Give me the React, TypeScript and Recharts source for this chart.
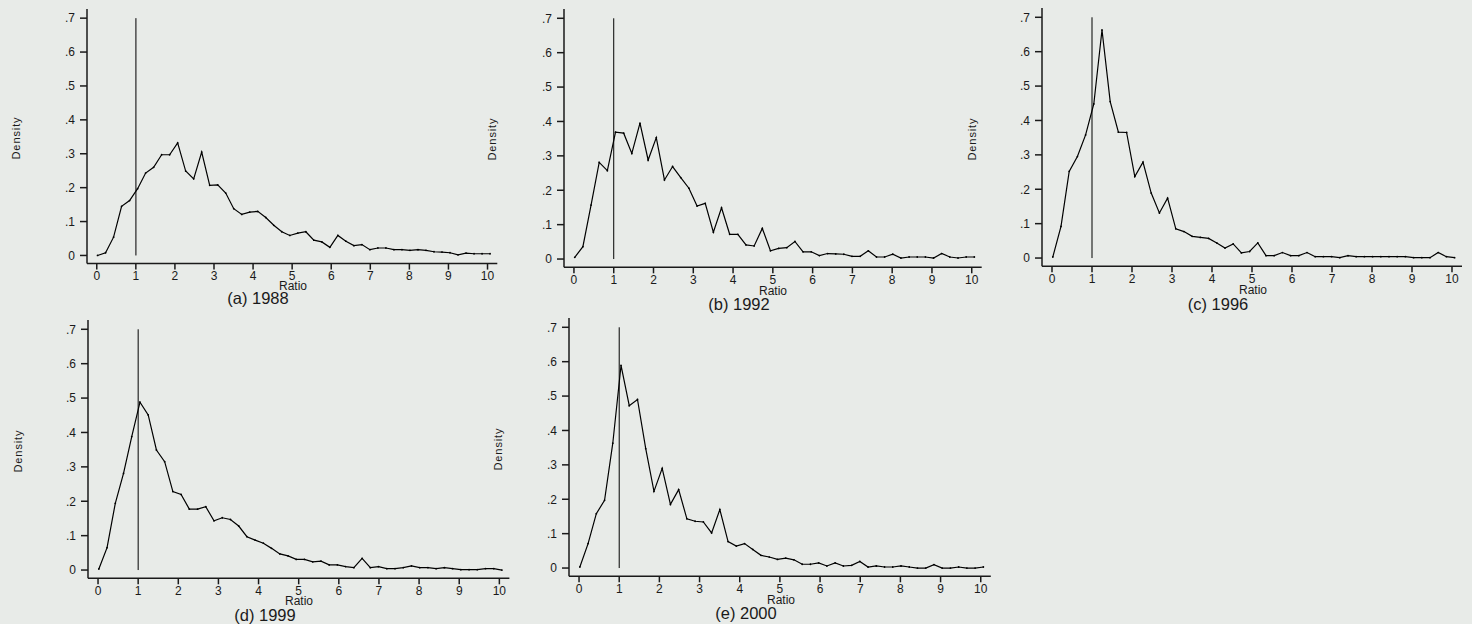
import React from "react";
import { LineChart, Line, XAxis, YAxis, ReferenceLine } from "recharts";

// bin midpoints on the Ratio axis (shared by all five panels)
const RATIO = [
  0.02, 0.225, 0.43, 0.635, 0.84, 1.045, 1.25, 1.455, 1.66, 1.865,
  2.07, 2.275, 2.48, 2.685, 2.89, 3.095, 3.3, 3.505, 3.71, 3.915,
  4.12, 4.325, 4.53, 4.735, 4.94, 5.145, 5.35, 5.555, 5.76, 5.965,
  6.17, 6.375, 6.58, 6.785, 6.99, 7.195, 7.4, 7.605, 7.81, 8.015,
  8.22, 8.425, 8.63, 8.835, 9.04, 9.245, 9.45, 9.655, 9.86, 10.065,
];

const D1988 = [
  0.0, 0.008, 0.054, 0.145, 0.162, 0.197, 0.243, 0.26, 0.297, 0.297,
  0.332, 0.249, 0.226, 0.305, 0.207, 0.208, 0.184, 0.138, 0.121, 0.128,
  0.13, 0.112, 0.089, 0.07, 0.059, 0.066, 0.07, 0.045, 0.04, 0.024,
  0.059, 0.042, 0.029, 0.032, 0.017, 0.022, 0.022, 0.017, 0.017, 0.015,
  0.017, 0.015, 0.011, 0.01, 0.008, 0.002, 0.007, 0.005, 0.005, 0.005,
];

const D1992 = [
  0.005, 0.036, 0.157, 0.281, 0.257, 0.369, 0.366, 0.307, 0.395, 0.288,
  0.353, 0.23, 0.269, 0.237, 0.206, 0.154, 0.162, 0.078, 0.149, 0.072,
  0.072, 0.041, 0.038, 0.089, 0.024, 0.031, 0.033, 0.051, 0.021, 0.021,
  0.01, 0.016, 0.015, 0.014, 0.008, 0.008, 0.024, 0.006, 0.006, 0.014,
  0.003, 0.006, 0.006, 0.006, 0.003, 0.016, 0.006, 0.003, 0.006, 0.006,
];

const D1996 = [
  0.003, 0.092, 0.252, 0.295, 0.358, 0.448, 0.663, 0.455, 0.366, 0.365,
  0.237, 0.279, 0.189, 0.131, 0.174, 0.085, 0.077, 0.063, 0.06, 0.057,
  0.044, 0.029, 0.041, 0.015, 0.019, 0.044, 0.007, 0.007, 0.016, 0.007,
  0.007, 0.016, 0.004, 0.004, 0.004, 0.001, 0.007, 0.004, 0.004, 0.004,
  0.004, 0.004, 0.004, 0.004, 0.001, 0.001, 0.001, 0.016, 0.004, 0.001,
];

const D1999 = [
  0.003, 0.065, 0.194, 0.281, 0.388, 0.488, 0.451, 0.349, 0.315, 0.228,
  0.22, 0.177, 0.177, 0.184, 0.143, 0.152, 0.147, 0.128, 0.097, 0.087,
  0.078, 0.063, 0.047, 0.041, 0.031, 0.031, 0.024, 0.026, 0.015, 0.015,
  0.01, 0.007, 0.034, 0.007, 0.01, 0.004, 0.004, 0.007, 0.012, 0.007,
  0.007, 0.004, 0.007, 0.004, 0.001, 0.001, 0.001, 0.004, 0.004, 0.0,
];

const D2000 = [
  0.003, 0.071, 0.158, 0.197, 0.363, 0.589, 0.472, 0.49, 0.347, 0.223,
  0.29, 0.185, 0.228, 0.143, 0.136, 0.134, 0.102, 0.17, 0.077, 0.064,
  0.071, 0.054, 0.037, 0.032, 0.025, 0.029, 0.024, 0.011, 0.011, 0.015,
  0.006, 0.015, 0.006, 0.008, 0.019, 0.003, 0.006, 0.003, 0.003, 0.006,
  0.003, 0.0, 0.0, 0.01, 0.0, 0.0, 0.003, 0.0, 0.0, 0.003,
];

const X_TICKS = [0, 1, 2, 3, 4, 5, 6, 7, 8, 9, 10];
const Y_TICKS = [0, 0.1, 0.2, 0.3, 0.4, 0.5, 0.6, 0.7];

const FONT = "'Liberation Sans', Arial, sans-serif";
const BG = "#e8ebe8";
const INK = "#1a1a1a";
const TICK_FS = 12;
const YW = 60;
const XH = 30;
const MT = 4;
const MR = 4;

const panels = [
  { caption: "(a) 1988", data: D1988, left: 86.8, top: 8.6, w: 410.3, h: 254.6, ref: "#5e5e5e", refW: 1.7,
    capX: 258, capY: 303.5, ratioX: 293, ratioY: 290, densX: 19.5, densY: 138 },
  { caption: "(b) 1992", data: D1992, left: 564.4, top: 8.9, w: 417.7, h: 258.3, ref: "#000", refW: 1,
    capX: 739, capY: 309.5, ratioX: 773, ratioY: 294.5, densX: 496, densY: 139 },
  { caption: "(c) 1996", data: D1996, left: 1042.3, top: 8.2, w: 420, h: 258.3, ref: "#000", refW: 1,
    capX: 1218, capY: 309.5, ratioX: 1253, ratioY: 293.5, densX: 976, densY: 139 },
  { caption: "(d) 1999", data: D1999, left: 87.7, top: 320.2, w: 421.4, h: 258.3, ref: "#000", refW: 1,
    capX: 265, capY: 620.5, ratioX: 299, ratioY: 604.5, densX: 21.5, densY: 451 },
  { caption: "(e) 2000", data: D2000, left: 569, top: 317.9, w: 421.8, h: 258.3, ref: "#000", refW: 1,
    capX: 746, capY: 619, ratioX: 781, ratioY: 603.5, densX: 502, densY: 449 },
];

const fmtY = (v: number) => (v === 0 ? "0" : "." + Math.round(v * 10));

// explicit tick renderers so the label size is exactly what we ask for
const XTick = ({ x, y, payload }: any) => (
  <text x={x} y={y} dy="0.71em" textAnchor="middle" fontSize={TICK_FS} fontFamily={FONT} fill={INK}>
    {payload.value}
  </text>
);

const YTick = ({ x, y, payload }: any) => (
  <text x={x} y={y} dy="0.355em" textAnchor="end" fontSize={TICK_FS} fontFamily={FONT} fill={INK}>
    {fmtY(payload.value)}
  </text>
);

function Panel({ p }: { p: (typeof panels)[number] }) {
  const rows = RATIO.map((x, i) => ({ x, y: p.data[i] }));
  return (
    <div style={{ position: "absolute", left: p.left - YW, top: p.top - MT }}>
      <LineChart
        width={YW + p.w + MR}
        height={MT + p.h + XH}
        data={rows}
        margin={{ top: MT, right: MR, left: 0, bottom: 0 }}
      >
        <XAxis
          type="number"
          dataKey="x"
          domain={[-0.25, 10.25]}
          ticks={X_TICKS}
          allowDataOverflow
          interval={0}
          height={XH}
          tickSize={6}
          tickMargin={2}
          axisLine={{ stroke: INK, strokeWidth: 1.5 }}
          tickLine={{ stroke: INK, strokeWidth: 1.5 }}
          tick={XTick}
        />
        <YAxis
          type="number"
          domain={[-0.024, 0.727]}
          ticks={Y_TICKS}
          allowDataOverflow
          interval={0}
          width={YW}
          tickSize={7}
          tickMargin={5}
          axisLine={{ stroke: INK, strokeWidth: 1.5 }}
          tickLine={{ stroke: INK, strokeWidth: 1.5 }}
          tick={YTick}
        />
        <ReferenceLine
          segment={[{ x: 1, y: 0 }, { x: 1, y: 0.7 }]}
          stroke={p.ref}
          strokeWidth={p.refW}
        />
        <Line
          type="linear"
          dataKey="y"
          stroke="#000"
          strokeWidth={1.2}
          dot={{ r: 0.9, fill: "#000", stroke: "none" }}
          activeDot={false}
          isAnimationActive={false}
        />
      </LineChart>
    </div>
  );
}

export default function App() {
  return (
    <div
      style={{
        position: "absolute",
        left: 0,
        top: 0,
        width: 1472,
        height: 624,
        background: BG,
        overflow: "hidden",
      }}
    >
      {panels.map((p) => (
        <Panel key={p.caption} p={p} />
      ))}
      <svg
        width={1472}
        height={624}
        style={{ position: "absolute", left: 0, top: 0, pointerEvents: "none" }}
      >
        {panels.map((p) => (
          <g key={p.caption} fontFamily={FONT} fill={INK}>
            <text x={p.ratioX} y={p.ratioY} fontSize={12} textAnchor="middle">
              Ratio
            </text>
            <text x={p.capX} y={p.capY} fontSize={16.5} textAnchor="middle">
              {p.caption}
            </text>
            <text
              x={p.densX}
              y={p.densY}
              fontSize={11}
              letterSpacing={0.9}
              textAnchor="middle"
              transform={`rotate(-90 ${p.densX} ${p.densY})`}
            >
              Density
            </text>
          </g>
        ))}
      </svg>
    </div>
  );
}
